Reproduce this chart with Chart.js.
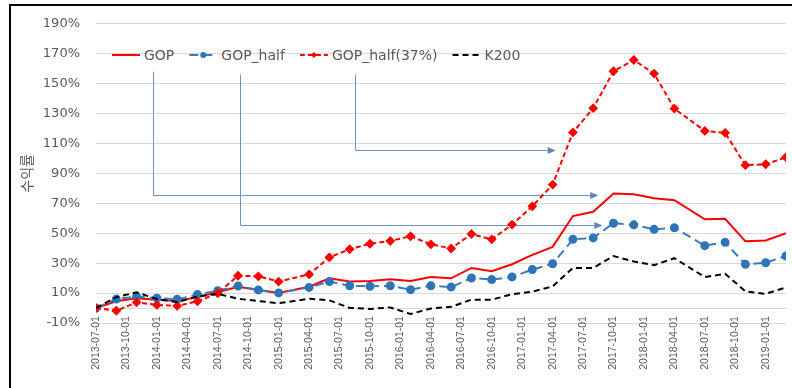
<!DOCTYPE html>
<html lang="ko">

<head>
  <meta charset="utf-8">
  <script src="https://cdn.jsdelivr.net/npm/chart.js"></script>
  <style>
    body { margin: 0; background: #fff; }
    .wrap { position: relative; width: 792px; height: 388px; overflow: hidden; }
    .wrap canvas { display: block; }
    /* 바깥 테두리 (왼쪽, 위) */
    .frame {
      position: absolute; left: 9px; top: 4px; right: -4px; bottom: -4px;
      border-left: 2px solid #000; border-top: 2px solid #000;
      pointer-events: none;
    }
  </style>
</head>

<body>
  <div class="wrap">
    <canvas id="chartLine" width="792" height="388"></canvas>
    <div class="frame"></div>
  </div>

<script>
  // 기준월 (대부분 2개월 간격)
  var dates = ['2013-07', '2013-09', '2013-11', '2014-01', '2014-03', '2014-05', '2014-07', '2014-09',
    '2014-11', '2015-01', '2015-04', '2015-06', '2015-08', '2015-10', '2015-12', '2016-02', '2016-04',
    '2016-06', '2016-08', '2016-10', '2016-12', '2017-02', '2017-04', '2017-06', '2017-08', '2017-10',
    '2017-12', '2018-02', '2018-04', '2018-07', '2018-09', '2018-11', '2019-01', '2019-03'];

  // 누적 수익률 (%)
  var gop = [0, 4.5, 6.6, 5.6, 4.7, 7.3, 10.5, 14.2, 12.1, 10.1, 14.2, 19.9, 17.7, 18.1, 19.2, 18.1, 20.7,
    19.9, 26.8, 24.6, 29.3, 35.5, 40.9, 61.5, 64.3, 76.6, 76.0, 73.4, 72.1, 59.3, 59.7, 44.6, 45.2, 50.0];
  var gopHalf = [0, 6.0, 7.7, 6.6, 5.8, 9.0, 11.6, 14.7, 12.1, 10.1, 13.8, 17.7, 14.9, 14.6, 14.9, 12.3, 14.9,
    14.0, 20.1, 19.0, 20.8, 25.7, 29.6, 45.9, 46.9, 56.7, 55.6, 52.6, 53.7, 41.7, 43.9, 29.2, 30.3, 34.8];
  var gopHalf37 = [0, -1.8, 3.8, 2.1, 1.4, 4.5, 9.9, 21.6, 21.2, 17.7, 22.5, 33.9, 39.3, 43.0, 44.8, 48.0, 42.6,
    39.8, 49.5, 45.9, 55.8, 68.0, 82.5, 117.4, 133.6, 158.3, 165.8, 156.7, 133.3, 118.4, 117.1, 95.5, 96.1, 100.8];
  var k200 = [0, 7.3, 10.5, 6.0, 4.0, 7.7, 9.5, 6.2, 4.7, 3.2, 6.2, 5.1, 0.1, -0.6, 0.4, -4.0, -0.3,
    0.8, 5.6, 5.6, 9.2, 11.0, 14.4, 26.8, 26.8, 34.8, 31.1, 28.7, 33.3, 20.7, 22.9, 11.2, 9.5, 13.8];

  // 축 눈금
  var xLabels = ['2013-07-01', '2013-10-01', '2014-01-01', '2014-04-01', '2014-07-01', '2014-10-01',
    '2015-01-01', '2015-04-01', '2015-07-01', '2015-10-01', '2016-01-01', '2016-04-01', '2016-07-01',
    '2016-10-01', '2017-01-01', '2017-04-01', '2017-07-01', '2017-10-01', '2018-01-01', '2018-04-01',
    '2018-07-01', '2018-10-01', '2019-01-01'];
  var yTicks = [-10, 10, 30, 50, 70, 90, 110, 130, 150, 170, 190];

  // 범례에서 선까지 이어지는 화살표 (x: 개월, level: %)
  var arrows = [
    { from: 5.6, to: 49.5, top: 158, level: 75.5 },
    { from: 14.2, to: 49.9, top: 156, level: 55.6 },
    { from: 25.5, to: 45.3, top: 156, level: 105.9 }
  ];

  // 2013-07 부터의 개월 수
  function monthIndex(d) {
    var p = d.split('-');
    return (+p[0] - 2013) * 12 + (+p[1] - 7);
  }

  function points(values) {
    return values.map(function (v, i) { return { x: monthIndex(dates[i]), y: v }; });
  }

  var gray = '#595959';

  var arrowPlugin = {
    id: 'arrows',
    beforeDatasetsDraw: function (chart) {
      var ctx = chart.ctx;
      var xs = chart.scales.x, ys = chart.scales.y;
      ctx.save();
      ctx.strokeStyle = '#6f92c6';
      ctx.fillStyle = '#5f84bd';
      ctx.lineWidth = 1;
      arrows.forEach(function (a) {
        var x0 = Math.round(xs.getPixelForValue(a.from)) + 0.5;
        var x1 = xs.getPixelForValue(a.to);
        var y0 = ys.getPixelForValue(a.top);
        var y1 = Math.round(ys.getPixelForValue(a.level)) + 0.5;
        ctx.beginPath();
        ctx.moveTo(x0, y0);
        ctx.lineTo(x0, y1);
        ctx.lineTo(x1 - 6, y1);
        ctx.stroke();
        ctx.beginPath();
        ctx.moveTo(x1, y1);
        ctx.lineTo(x1 - 8, y1 - 3.5);
        ctx.lineTo(x1 - 8, y1 + 3.5);
        ctx.closePath();
        ctx.fill();
      });
      ctx.restore();
    }
  };

  // 범례 (그래프 안쪽 위)
  var legendPlugin = {
    id: 'insideLegend',
    afterDatasetsDraw: function (chart) {
      var ctx = chart.ctx;
      var x = 112, y = 55;
      ctx.save();
      ctx.font = '14px "DejaVu Sans"';
      ctx.textBaseline = 'middle';
      chart.data.datasets.forEach(function (ds) {
        ctx.strokeStyle = ds.borderColor;
        ctx.lineWidth = 2;
        ctx.setLineDash(ds.borderDash || []);
        ctx.beginPath();
        ctx.moveTo(x, y);
        ctx.lineTo(x + 28, y);
        ctx.stroke();
        ctx.setLineDash([]);
        if (ds.pointRadius > 0) {
          ctx.fillStyle = ds.pointBackgroundColor;
          var r = ds.pointRadius - 0.5;
          ctx.beginPath();
          if (ds.pointStyle === 'rectRot') {
            ctx.moveTo(x + 14, y - r); ctx.lineTo(x + 14 + r, y);
            ctx.lineTo(x + 14, y + r); ctx.lineTo(x + 14 - r, y);
            ctx.closePath();
          } else {
            ctx.arc(x + 14, y, r, 0, Math.PI * 2);
          }
          ctx.fill();
        }
        ctx.fillStyle = gray;
        ctx.fillText(ds.label, x + 32, y + 1);
        x += 32 + ctx.measureText(ds.label).width + 15;
      });
      ctx.restore();
    }
  };

  var ctxLine = document.getElementById('chartLine').getContext('2d');

  var configLine = {
    type: 'line',
    data: {
      datasets: [
        {
          label: 'GOP',
          data: points(gop),
          borderColor: '#ff0000',
          borderWidth: 2,
          pointRadius: 0,
          order: 3
        },
        {
          label: 'GOP_half',
          data: points(gopHalf),
          borderColor: '#3a7bbf',
          borderWidth: 2,
          borderDash: [9, 5],
          pointRadius: 3.5,
          pointStyle: 'circle',
          pointBackgroundColor: '#2e75b6',
          pointBorderColor: '#2e75b6',
          order: 2
        },
        {
          label: 'GOP_half(37%)',
          data: points(gopHalf37),
          borderColor: '#ff0000',
          borderWidth: 2,
          borderDash: [5, 3],
          pointRadius: 3.5,
          pointStyle: 'rectRot',
          pointBackgroundColor: '#ff0000',
          pointBorderColor: '#ff0000',
          order: 1
        },
        {
          label: 'K200',
          data: points(k200),
          borderColor: '#000000',
          borderWidth: 2,
          borderDash: [6, 4],
          pointRadius: 0,
          order: 0
        }
      ]
    },
    options: {
      responsive: false,
      animation: false,
      layout: { padding: { top: 15, bottom: 65, left: 0, right: 0 } },
      plugins: {
        legend: { display: false },
        tooltip: { enabled: false }
      },
      scales: {
        x: {
          type: 'linear',
          min: 0,
          max: 68,
          position: { y: 0 },
          grid: { display: false, drawTicks: false },
          border: { display: true, color: '#d9d9d9', width: 1 },
          afterBuildTicks: function (scale) {
            scale.ticks = xLabels.map(function (l) { return { value: monthIndex(l.slice(0, 7)) }; });
          },
          ticks: {
            autoSkip: false,
            minRotation: 90,
            maxRotation: 90,
            padding: 8,
            color: gray,
            font: { family: 'Liberation Sans', size: 10.5 },
            callback: function (value, index) { return xLabels[index]; }
          }
        },
        y: {
          min: -10,
          max: 190,
          afterFit: function (scale) { scale.width = 96; },
          afterBuildTicks: function (scale) {
            scale.ticks = yTicks.map(function (v) { return { value: v }; });
          },
          grid: { color: '#d9d9d9', drawTicks: false },
          border: { display: false },
          ticks: {
            padding: 16,
            color: gray,
            font: { family: 'DejaVu Sans', size: 13 },
            callback: function (v) { return v + '%'; }
          },
          title: {
            display: true,
            text: '수익률',
            color: gray,
            padding: { top: 18, bottom: 0 },
            font: { family: 'Noto Sans CJK KR', size: 14 }
          }
        }
      }
    },
    plugins: [arrowPlugin, legendPlugin]
  };

  var chartLine = new Chart(ctxLine, configLine);
</script>
</body>

</html>
